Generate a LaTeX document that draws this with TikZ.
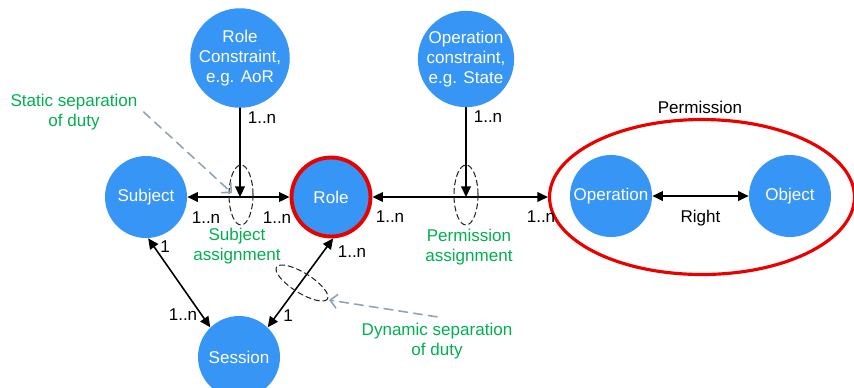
\documentclass[tikz,border=0pt]{standalone}
\usepackage{fontspec}
\setmainfont{Liberation Sans}
\usetikzlibrary{arrows.meta,shapes.geometric}
\begin{document}
\begin{tikzpicture}[x=0.02cm, y=-0.02cm, line cap=round, line join=round,
  >={Triangle[length=6pt,width=5.5pt]},
  every node/.style={font=\fontsize{9.7}{11.4}\selectfont},
  entity/.style={circle, fill=rbacblue, text=white, minimum size=1.64cm, inner sep=0pt, align=center},
  constraint/.style={entity, minimum size=1.8cm},
  link/.style={line width=0.9pt},
  note/.style={text=notegreen, align=center},
  hint/.style={draw=hintgray, line width=0.9pt, dash pattern=on 5pt off 3.5pt, -{Straight Barb[length=4pt,width=8pt]}},
  group/.style={draw=black!85, dash pattern=on 3pt off 2pt, line width=0.6pt}]
  \definecolor{rbacblue}{RGB}{55,150,245}
  \definecolor{notegreen}{RGB}{0,176,80}
  \definecolor{permred}{RGB}{235,0,0}
  \definecolor{hintgray}{RGB}{143,163,182}
  \useasboundingbox (0,0) rectangle (854,387);
  % main entities
  \node[entity] (subject) at (146,197) {Subject};
  \node[entity, draw=permred, line width=2.2pt, minimum size=1.58cm] (role) at (331,197) {Role};
  \node[entity] (session) at (239,357) {Session};
  \node[constraint] (rolecon) at (240,58) {Role\\Constraint,\\e.g. AoR};
  \node[constraint] (opcon) at (466,59) {Operation\\constraint,\\e.g. State};
  % permission
  \node[ellipse, draw=permred, line width=1.8pt, minimum width=6.1cm, minimum height=3.1cm] (perm) at (702,197) {};
  \node (permlabel) at (700,107) {Permission};
  \node[entity] (operation) at (611,196) {Operation};
  \node[entity] (object) at (790,196) {Object};
  \draw[link, <->] (operation) -- (object) node[midway, below=4pt] (right) {Right};
  % assignments
  \coordinate (sa) at (240,197);
  \coordinate (pa) at (466,197);
  \draw[link, <->] (subject) -- (role);
  \draw[link, <->] (role) -- (perm);
  \draw[link, ->] (rolecon) -- (sa);
  \draw[link, ->] (opcon) -- (pa);
  \draw[link, <->] (subject.-87) -- (session.134);
  \draw[link, <->] (role.-87) -- (session.46);
  \draw[group] (241,195) ellipse (12 and 30);
  \draw[group] (466,195) ellipse (12 and 30);
  \draw[group, rotate around={-32:(302,283)}] (302,283) ellipse (30 and 10);
  % multiplicities
  \node (m1) at (262,118) {1..n};
  \node (m2) at (206,218) {1..n};
  \node (m3) at (277,218) {1..n};
  \node (m4) at (488,117) {1..n};
  \node (m5) at (390,217) {1..n};
  \node (m6) at (541,217) {1..n};
  \node (m7) at (165,247) {1};
  \node (m8) at (183,315) {1..n};
  \node (m9) at (352,252) {1..n};
  \node (m10) at (288,316) {1};
  % notes
  \node[note] (subas) at (237,246) {Subject\\assignment};
  \node[note] (permas) at (469,247) {Permission\\assignment};
  \node[note] (ssd) at (74,112) {Static separation\\of duty};
  \node[note] (dsd) at (437,341) {Dynamic separation\\of duty};
  \coordinate (ssdend) at (232,193);
  \coordinate (dsdend) at (329,300);
  \draw[hint] (ssd.east) -- (ssdend);
  \draw[hint] (dsd.north) -- (dsdend);
\end{tikzpicture}
\end{document}
